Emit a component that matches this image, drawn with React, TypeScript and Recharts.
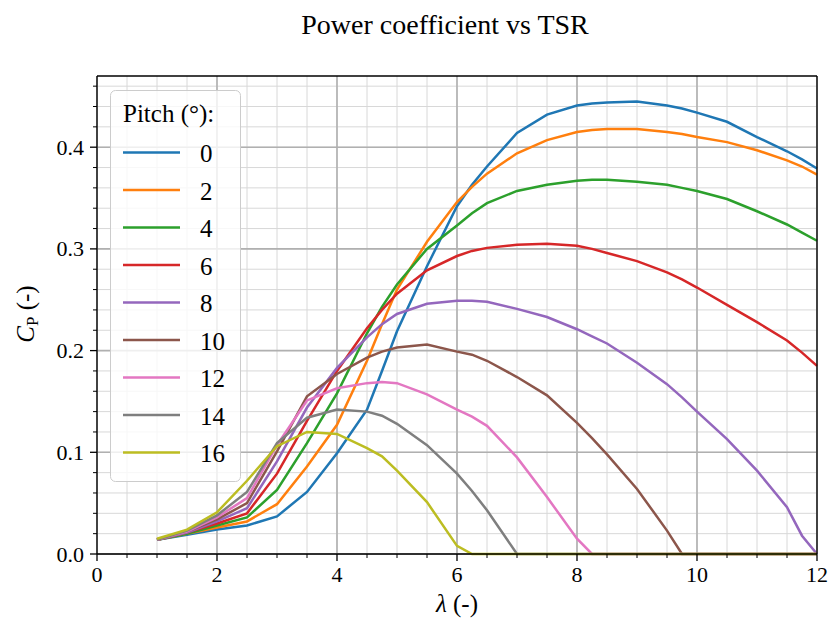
import { CartesianGrid, Legend, Line, LineChart, ReferenceLine, XAxis, YAxis } from 'recharts';

const FONT = '"Liberation Serif", "DejaVu Serif", serif';

// tip speed ratio samples
const lambda = [1, 1.5, 2, 2.5, 3, 3.5, 4, 4.5, 4.75, 5, 5.5, 6, 6.25, 6.5, 7, 7.5, 8, 8.25, 8.5, 9, 9.5, 9.75, 10, 10.5, 11, 11.5, 11.75, 12];

// power coefficient per pitch angle
const cp0 = [0.014, 0.019, 0.024, 0.028, 0.037, 0.061, 0.099, 0.142, 0.18, 0.219, 0.283, 0.342, 0.363, 0.381, 0.414, 0.432, 0.441, 0.443, 0.444, 0.445, 0.441, 0.438, 0.434, 0.425, 0.41, 0.396, 0.388, 0.379];
const cp2 = [0.014, 0.02, 0.026, 0.032, 0.049, 0.086, 0.127, 0.19, 0.226, 0.26, 0.307, 0.346, 0.361, 0.374, 0.394, 0.407, 0.415, 0.417, 0.418, 0.418, 0.415, 0.413, 0.41, 0.405, 0.397, 0.387, 0.381, 0.373];
const cp4 = [0.014, 0.02, 0.028, 0.036, 0.063, 0.109, 0.158, 0.217, 0.243, 0.265, 0.3, 0.323, 0.335, 0.345, 0.357, 0.363, 0.367, 0.368, 0.368, 0.366, 0.363, 0.36, 0.357, 0.349, 0.337, 0.324, 0.316, 0.308];
const cp6 = [0.014, 0.021, 0.03, 0.04, 0.079, 0.131, 0.18, 0.222, 0.24, 0.256, 0.279, 0.293, 0.298, 0.301, 0.304, 0.305, 0.303, 0.3, 0.296, 0.288, 0.277, 0.27, 0.262, 0.245, 0.228, 0.21, 0.198, 0.185];
const cp8 = [0.014, 0.021, 0.032, 0.045, 0.091, 0.144, 0.183, 0.213, 0.226, 0.236, 0.246, 0.249, 0.249, 0.248, 0.241, 0.233, 0.221, 0.214, 0.207, 0.188, 0.167, 0.154, 0.14, 0.113, 0.082, 0.046, 0.018, 0];
const cp10 = [0.014, 0.022, 0.034, 0.05, 0.101, 0.155, 0.177, 0.193, 0.199, 0.203, 0.206, 0.199, 0.196, 0.19, 0.174, 0.156, 0.129, 0.114, 0.098, 0.064, 0.023, 0, 0, 0, 0, 0, 0, 0];
const cp12 = [0.014, 0.022, 0.036, 0.055, 0.107, 0.151, 0.163, 0.168, 0.169, 0.168, 0.157, 0.142, 0.135, 0.126, 0.095, 0.056, 0.015, 0, 0, 0, 0, 0, 0, 0, 0, 0, 0, 0];
const cp14 = [0.014, 0.023, 0.038, 0.061, 0.109, 0.134, 0.142, 0.14, 0.136, 0.128, 0.107, 0.079, 0.062, 0.043, 0, 0, 0, 0, 0, 0, 0, 0, 0, 0, 0, 0, 0, 0];
const cp16 = [0.015, 0.024, 0.041, 0.072, 0.106, 0.12, 0.118, 0.104, 0.096, 0.082, 0.051, 0.008, 0, 0, 0, 0, 0, 0, 0, 0, 0, 0, 0, 0, 0, 0, 0, 0];

const pitchLabels = ['0', '2', '4', '6', '8', '10', '12', '14', '16'];
const seriesColors = ['#1f77b4', '#ff7f0e', '#2ca02c', '#d62728', '#9467bd', '#8c564b', '#e377c2', '#7f7f7f', '#bcbd22'];
const cpSeries = [cp0, cp2, cp4, cp6, cp8, cp10, cp12, cp14, cp16];

const xMajorTicks = [0, 2, 4, 6, 8, 10, 12];
const xMinorTicks = [0, 0.5, 1, 1.5, 2, 2.5, 3, 3.5, 4, 4.5, 5, 5.5, 6, 6.5, 7, 7.5, 8, 8.5, 9, 9.5, 10, 10.5, 11, 11.5, 12];
const yMajorTicks = [0, 0.1, 0.2, 0.3, 0.4];
const yMinorTicks = [0, 0.02, 0.04, 0.06, 0.08, 0.1, 0.12, 0.14, 0.16, 0.18, 0.2, 0.22, 0.24, 0.26, 0.28, 0.3, 0.32, 0.34, 0.36, 0.38, 0.4, 0.42, 0.44, 0.46];

const data = lambda.map((lam, i) => {
  const row: Record<string, number> = { lam };
  cpSeries.forEach((s, k) => {
    row[`p${pitchLabels[k]}`] = s[i];
  });
  return row;
});

const isMajorX = (v: number) => xMajorTicks.includes(v);
const isMajorY = (v: number) => yMajorTicks.some((t) => Math.abs(t - v) < 1e-9);

const XTick = ({ x, y, payload }: any) => {
  const major = isMajorX(payload.value);
  return (
    <g>
      <line x1={x} x2={x} y1={y} y2={y + (major ? 7 : 4)} stroke="#000" strokeWidth={major ? 1.3 : 1} />
      {major && (
        <text x={x} y={y + 12} dy="0.71em" textAnchor="middle" fontFamily={FONT} fontSize={22} fill="#000">
          {payload.value}
        </text>
      )}
    </g>
  );
};

const YTick = ({ x, y, payload }: any) => {
  const major = isMajorY(payload.value);
  return (
    <g>
      <line x1={x - (major ? 7 : 4)} x2={x} y1={y} y2={y} stroke="#000" strokeWidth={major ? 1.3 : 1} />
      {major && (
        <text x={x - 13} y={y} textAnchor="end" dominantBaseline="central" fontFamily={FONT} fontSize={22} fill="#000">
          {Number(payload.value).toFixed(1)}
        </text>
      )}
    </g>
  );
};

const XLabel = ({ viewBox }: any) => (
  <text x={viewBox.x + viewBox.width / 2} y={612} textAnchor="middle" fontFamily={FONT} fontSize={25} fill="#000">
    <tspan fontStyle="italic">λ</tspan> (-)
  </text>
);

const YLabel = () => (
  <text transform="translate(34,314) rotate(-90)" textAnchor="middle" fontFamily={FONT} fontSize={25} fill="#000">
    <tspan fontStyle="italic">C</tspan>
    <tspan fontSize={17} dy={4}>P</tspan>
    <tspan dy={-4}> (-)</tspan>
  </text>
);

const PitchLegend = ({ payload }: any) => {
  const items = [...(payload || [])].sort((a: any, b: any) => pitchLabels.indexOf(a.value) - pitchLabels.indexOf(b.value));
  return (
    <svg width={131} height={392} style={{ display: 'block' }}>
      <rect x={0.5} y={0.5} width={130} height={391} rx={5} fill="#fff" fillOpacity={0.8} stroke="#cccccc" />
      <text x={13} y={32} fontFamily={FONT} fontSize={25} fill="#000">Pitch (°):</text>
      {items.map((entry: any, i: number) => (
        <g key={entry.value}>
          <line x1={13} x2={70} y1={62.5 + 37.5 * i} y2={62.5 + 37.5 * i} stroke={entry.color} strokeWidth={2.5} />
          <text x={90} y={63.5 + 37.5 * i} dominantBaseline="central" fontFamily={FONT} fontSize={25} fill="#000">
            {entry.value}
          </text>
        </g>
      ))}
    </svg>
  );
};

export default function App() {
  return (
    <div style={{ position: 'relative', width: 830, height: 630, background: '#fff' }}>
      <style>{'body{margin:0}'}</style>
      <div style={{ position: 'absolute', left: 0, top: 9, width: 890, textAlign: 'center', fontFamily: FONT, fontSize: 28, color: '#000' }}>
        Power coefficient vs TSR
      </div>
      <LineChart width={830} height={630} data={data} margin={{ top: 76, right: 13, bottom: 75, left: 96 }}>
        <CartesianGrid verticalValues={xMinorTicks} horizontalValues={yMinorTicks} stroke="#d8d8d8" strokeWidth={1} />
        <CartesianGrid verticalValues={xMajorTicks} horizontalValues={yMajorTicks} stroke="#b0b0b0" strokeWidth={1.6} />
        <XAxis
          dataKey="lam"
          type="number"
          domain={[0, 12]}
          ticks={xMinorTicks}
          interval={0}
          height={1}
          tickSize={0}
          tickMargin={0}
          tickLine={false}
          tick={<XTick />}
          axisLine={{ stroke: '#000', strokeWidth: 1.3 }}
          label={{ content: <XLabel /> }}
        />
        <YAxis
          type="number"
          domain={[0, 0.47]}
          ticks={yMinorTicks}
          interval={0}
          width={1}
          tickSize={0}
          tickMargin={0}
          tickLine={false}
          tick={<YTick />}
          axisLine={{ stroke: '#000', strokeWidth: 1.3 }}
          label={{ content: <YLabel /> }}
        />
        {cpSeries.map((_, k) => (
          <Line
            key={pitchLabels[k]}
            type="linear"
            dataKey={`p${pitchLabels[k]}`}
            name={pitchLabels[k]}
            stroke={seriesColors[k]}
            strokeWidth={2.5}
            dot={false}
            isAnimationActive={false}
          />
        ))}
        <ReferenceLine y={0.47} stroke="#000" strokeWidth={1.3} />
        <ReferenceLine x={12} stroke="#000" strokeWidth={1.3} />
        <Legend
          layout="vertical"
          align="center"
          verticalAlign="middle"
          width={131}
          height={392}
          wrapperStyle={{ left: 110, top: 90, width: 131, height: 392 }}
          content={<PitchLegend />}
        />
      </LineChart>
    </div>
  );
}
